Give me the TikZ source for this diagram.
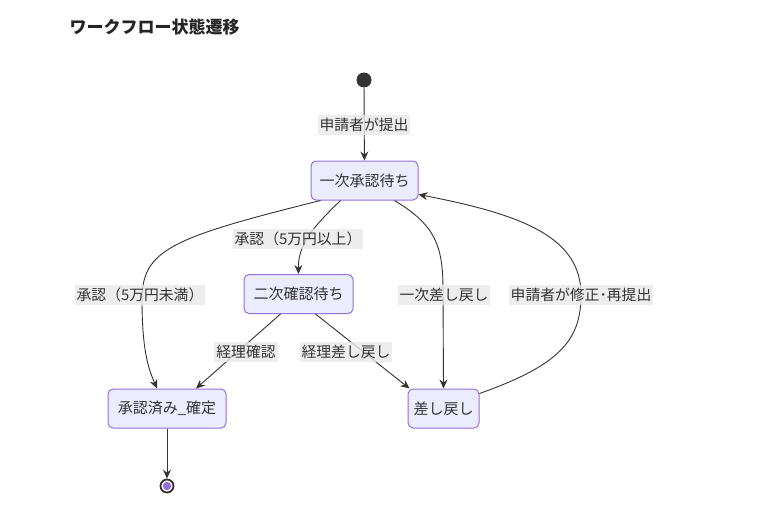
\documentclass[tikz,border=0pt]{standalone}
\usepackage{fontspec}
\setmainfont{Noto Sans CJK JP}
\usetikzlibrary{arrows.meta,calc}
\definecolor{nodefill}{HTML}{ECECFF}
\definecolor{nodeline}{HTML}{9370DB}
\definecolor{ink}{HTML}{333333}
\definecolor{lblbg}{HTML}{E8E8E8}
\begin{document}
\begin{tikzpicture}[x=1pt,y=-1pt,
  state/.style={draw=nodeline,fill=nodefill,rounded corners=5pt,line width=1pt,
    minimum height=39pt,inner xsep=8pt,font=\fontsize{15}{16}\selectfont,text=ink},
  lbl/.style={fill=lblbg,fill opacity=0.8,text opacity=1,inner xsep=2pt,inner ysep=3pt,
    font=\fontsize{14.8}{16}\selectfont,text=ink},
  edge/.style={draw=ink,line width=0.9pt,-{Stealth[length=9pt,width=8pt,inset=3pt]}}]
\useasboundingbox (0,0) rectangle (784,516);
\node[anchor=west,font=\fontsize{17}{20}\selectfont\bfseries,text=ink!70!black] (title) at (66,27) {ワークフロー状態遷移};
\node[circle,fill=ink,minimum size=15pt,inner sep=0pt] (start) at (364,80) {};
\node[state,minimum width=107pt] (s1) at (364.5,180.5) {一次承認待ち};
\node[state,minimum width=109pt] (s2) at (298.5,294) {二次確認待ち};
\node[state,minimum width=118pt] (ok) at (167,408.5) {承認済み\_確定};
\node[state,minimum width=71pt,inner xsep=5pt] (back) at (443.5,408.5) {差し戻し};
\node[circle,draw=ink,line width=1.8pt,fill=white,minimum size=13pt,inner sep=0pt] (end) at (167,486) {};
\fill[nodeline] (end.center) circle (4.2pt);
% edges
\draw[edge] (start) -- (s1);
\draw[edge] ($(s1.south)+(-24,0)$) .. controls (312,228) and (298,245) .. (s2.north);
\draw[edge] ($(s1.south)+(-44,0)$) .. controls (170,238) and (142,250) .. (142,300)
   .. controls (142,355) and (150,372) .. ($(ok.north)+(-10,0)$);
\draw[edge] ($(s1.south)+(30,0)$) .. controls (435,225) and (443,245) .. (443,290) -- (back.north);
\draw[edge] ($(back.east)+(0,-15)$) .. controls (560,365) and (581,340) .. (581,295)
   .. controls (581,238) and (525,215) .. ($(s1.east)+(0,14)$);
\draw[edge] ($(s2.south)+(-18,0)$) -- ($(ok.north)+(29,0)$);
\draw[edge] ($(s2.south)+(17,0)$) -- ($(back.north west)+(2,0)$);
\draw[edge] (ok) -- (end);
% labels
\node[lbl] (l1) at (364,125) {申請者が提出};
\node[lbl] (l2) at (298,239) {承認（5万円以上）};
\node[lbl] (l3) at (140,295) {承認（5万円未満）};
\node[lbl] (l4) at (444,295) {一次差し戻し};
\node[lbl] (l5) at (581,295) {申請者が修正･再提出};
\node[lbl] (l6) at (246,352) {経理確認};
\node[lbl] (l7) at (346,352) {経理差し戻し};
\end{tikzpicture}
\end{document}
